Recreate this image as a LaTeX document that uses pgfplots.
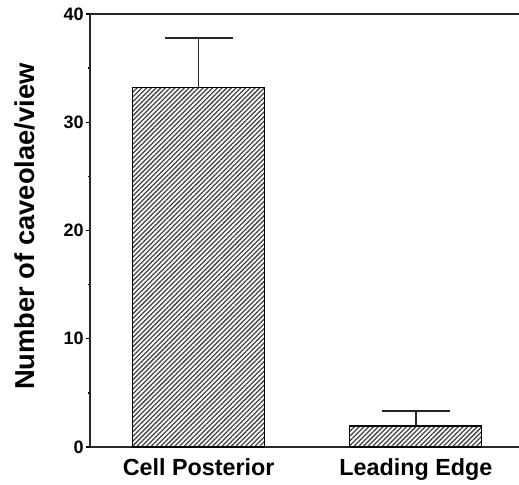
\documentclass[border=0pt]{standalone}
\usepackage{fontspec}
\setmainfont{Liberation Sans}
\usepackage{pgfplots}
\pgfplotsset{compat=1.18}
\usetikzlibrary{patterns.meta}
\begin{document}
\begin{tikzpicture}
\begin{axis}[
  scale only axis,
  width=321.75pt, height=324.75pt,
  separate axis lines,
  axis x line*=box, axis y line*=left,
  axis line style={-, line width=1.4pt, black!85},
  xmin=-0.5, xmax=1.475,
  ymin=0, ymax=40,
  ytick={0,10,20,30,40},
  minor y tick num=1,
  tick align=outside,
  major tick length=3pt, minor tick length=1.8pt,
  every tick/.style={line width=1pt, black},
  xtick={0,1},
  xticklabels={Cell Posterior, Leading Edge},
  every x tick/.style={draw=none},
  /pgf/number format/assume math mode=true,
  yticklabel style={font=\fontsize{13.5}{15}\selectfont\bfseries, inner sep=1.5pt},
  xticklabel style={font=\fontsize{17.5}{20}\selectfont\bfseries, yshift=-2pt},
  ylabel={Number of caveolae/view},
  ylabel style={font=\fontsize{20.5}{23}\selectfont\bfseries, at={(axis description cs:-0.152,0.509)}, anchor=center},
  ybar, bar width=0.608,
  clip=false,
]
\addplot[draw=black, line width=0.8pt,
  pattern={Lines[angle=45, distance=2.5pt, line width=0.95pt]}, pattern color=black!75,
  error bars/.cd, y dir=plus, y explicit,
  error bar style={line width=1.2pt, black!85},
  error mark options={rotate=90, mark size=25.5pt, line width=1.2pt, black!85}]
coordinates {(0,33.2) +- (0,4.6) (1,1.94) +- (0,1.4)};
\end{axis}
\pgfresetboundingbox
\path ([shift={(-67.5pt,-28pt)}]current axis.south west) rectangle ([shift={(0pt,10.5pt)}]current axis.north east);
\end{tikzpicture}
\end{document}
